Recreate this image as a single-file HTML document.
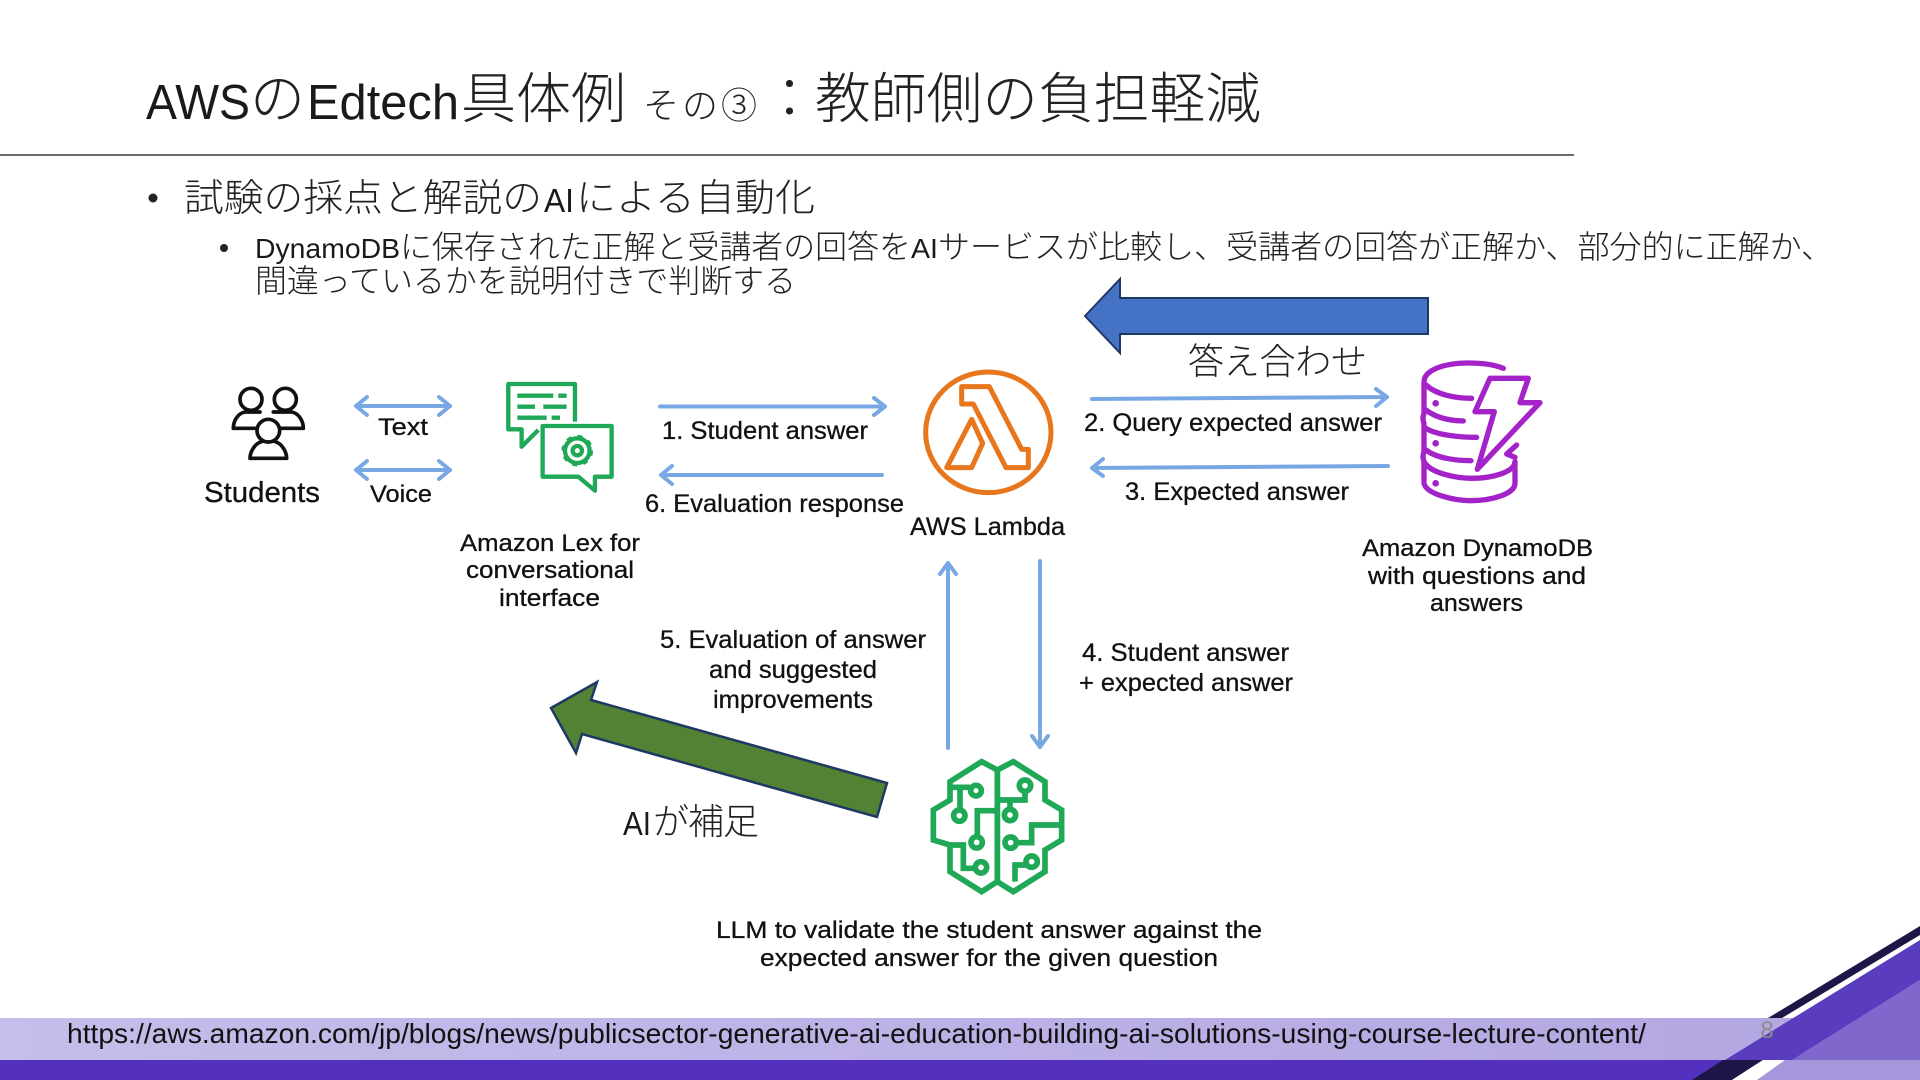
<!DOCTYPE html>
<html lang="ja">
<head>
<meta charset="utf-8">
<title>AWSのEdtech具体例</title>
<style>
html,body{margin:0;padding:0;background:#fff;width:1920px;height:1080px;overflow:hidden}
svg{display:block}
text{font-family:"Liberation Sans","Noto Sans CJK JP",sans-serif;fill:#111}
.jp{font-weight:300;fill:#222}
.lat{fill:#1a1a1a}
.d{stroke:#111;stroke-width:.3}
.a{fill:none;stroke:#78a8e4;stroke-width:4;stroke-linecap:round;stroke-linejoin:round}
.m{text-anchor:middle}
</style>
</head>
<body>
<svg width="1920" height="1080" viewBox="0 0 1920 1080" xmlns="http://www.w3.org/2000/svg">
<defs>
<linearGradient id="band" x1="0" x2="1" y1="0" y2="0">
<stop offset="0" stop-color="#c6bdea"/>
<stop offset="1" stop-color="#b4a7e2"/>
</linearGradient>
</defs>
<rect width="1920" height="1080" fill="#fff"/>

<!-- Title -->
<text class="lat" x="146" y="119" font-size="49" textLength="104" lengthAdjust="spacingAndGlyphs">AWS</text>
<text class="jp" x="250" y="118" font-size="55">の</text>
<text class="lat" x="307" y="119" font-size="49" textLength="152" lengthAdjust="spacingAndGlyphs">Edtech</text>
<text class="jp" x="461" y="118" font-size="55" textLength="165" lengthAdjust="spacingAndGlyphs">具体例</text>
<text class="jp" x="643" y="118" font-size="36" textLength="114">その③</text>
<text class="jp" x="762" y="118" font-size="55">：</text>
<text class="jp" x="815" y="118" font-size="55" textLength="446" lengthAdjust="spacingAndGlyphs">教師側の負担軽減</text>
<line x1="0" y1="155" x2="1574" y2="155" stroke="#6e6e6e" stroke-width="2"/>

<!-- Bullets -->
<circle cx="153" cy="198" r="4.5" fill="#222"/>
<text class="jp" x="184" y="211" font-size="38" textLength="358" lengthAdjust="spacingAndGlyphs">試験の採点と解説の</text>
<text class="lat" x="544" y="212" font-size="33" textLength="30" lengthAdjust="spacingAndGlyphs">AI</text>
<text class="jp" x="576" y="211" font-size="38" textLength="239" lengthAdjust="spacingAndGlyphs">による自動化</text>
<circle cx="224" cy="248" r="4" fill="#222"/>
<text class="lat" x="255" y="258" font-size="28" textLength="145" lengthAdjust="spacingAndGlyphs">DynamoDB</text>
<text class="jp" x="400" y="258" font-size="32" textLength="511" lengthAdjust="spacingAndGlyphs">に保存された正解と受講者の回答を</text>
<text class="lat" x="911" y="258" font-size="28" textLength="27" lengthAdjust="spacingAndGlyphs">AI</text>
<text class="jp" x="938" y="258" font-size="32" textLength="895" lengthAdjust="spacingAndGlyphs">サービスが比較し、受講者の回答が正解か、部分的に正解か、</text>
<text class="jp" x="255" y="292" font-size="32" textLength="541" lengthAdjust="spacingAndGlyphs">間違っているかを説明付きで判断する</text>

<!-- Block arrows -->
<polygon points="1085,316 1120,279 1120,298 1428,298 1428,334 1120,334 1120,353" fill="#4472c4" stroke="#1f3864" stroke-width="2"/>
<text class="jp" x="1188" y="374" font-size="36" textLength="179">答え合わせ</text>
<polygon points="551,708 597,682 591,700 887,783 877,817 582,734 576,753" fill="#548235" stroke="#1f3864" stroke-width="2.5" stroke-linejoin="miter"/>
<text class="lat" x="623" y="835" font-size="33" textLength="28" lengthAdjust="spacingAndGlyphs">AI</text>
<text class="jp" x="653" y="834" font-size="36" textLength="106">が補足</text>

<!-- Students -->
<g transform="translate(180,360) scale(.3333)" fill="none" stroke="#111" stroke-width="11" stroke-linecap="round" stroke-linejoin="round">
<circle cx="213" cy="118" r="33"/>
<circle cx="316" cy="118" r="33"/>
<circle cx="265" cy="212" r="34"/>
<path d="M240,156 H195 C172,160 160,185 160,205 H226"/>
<path d="M280,156 H335 C358,160 370,185 370,205 H304"/>
<path d="M245,245 C225,250 210,275 210,295 H320 C320,275 305,250 285,245"/>
</g>
<text class="d" x="204" y="502" font-size="29" textLength="116" lengthAdjust="spacingAndGlyphs">Students</text>

<!-- Text / Voice arrows -->
<path class="a" d="M356,406 H450 M367,397 L356,406 L367,415 M439,397 L450,406 L439,415"/>
<path class="a" d="M356,470 H450 M367,461 L356,470 L367,479 M439,461 L450,470 L439,479"/>
<text class="d" x="378" y="435" font-size="24" textLength="50" lengthAdjust="spacingAndGlyphs">Text</text>
<text class="d" x="370" y="502" font-size="24" textLength="62" lengthAdjust="spacingAndGlyphs">Voice</text>

<!-- Lex -->
<g transform="translate(180,360) scale(.3333)" fill="none" stroke="#1fa855" stroke-width="13" stroke-linejoin="round" stroke-linecap="butt">
<path d="M1185,185 V72 H985 V208 H1025 V260 L1075,210"/>
<path d="M1088,198 H1295 V350 H1245 V392 L1195,350 H1088 Z"/>
<path d="M1012,107 H1120 M1135,107 H1160 M1012,140 H1065 M1090,140 H1160 M1012,173 H1100 M1115,173 H1140"/>
<circle cx="1192" cy="272" r="14"/>
<circle cx="1192" cy="272" r="37"/>
<circle cx="1192" cy="272" r="43" stroke-width="9" stroke-dasharray="15 18.8"/>
</g>
<g font-size="24">
<text class="d" x="460" y="551" textLength="180" lengthAdjust="spacingAndGlyphs">Amazon Lex for</text>
<text class="d" x="466" y="578" textLength="168" lengthAdjust="spacingAndGlyphs">conversational</text>
<text class="d" x="499" y="606" textLength="101" lengthAdjust="spacingAndGlyphs">interface</text>
</g>

<!-- Arrows 1 / 6 -->
<path class="a" d="M660,406.5 H885 M874,398 L885,406.5 L874,415"/>
<path class="a" d="M661,475 H882 M672,466 L661,475 L672,484"/>
<text class="d" x="662" y="439" font-size="25" textLength="206" lengthAdjust="spacingAndGlyphs">1. Student answer</text>
<text class="d" x="645" y="512" font-size="25" textLength="259" lengthAdjust="spacingAndGlyphs">6. Evaluation response</text>

<!-- Lambda -->
<g transform="translate(900,340) scale(.3333)" fill="none" stroke="#e8761c" stroke-width="15" stroke-linejoin="round">
<ellipse cx="265" cy="277" rx="188" ry="181"/>
<path d="M185,140 H268 L365,328 H385 V383 H318 L220,192 H185 Z"/>
<path d="M215,238 L248,310 L215,383 H140 Z"/>
</g>
<text class="d" x="910" y="535" font-size="25" textLength="155" lengthAdjust="spacingAndGlyphs">AWS Lambda</text>

<!-- Arrows 2 / 3 -->
<path class="a" d="M1092,399 L1387,397 M1376,389 L1387,397 L1376,406"/>
<path class="a" d="M1092,468 L1388,466 M1103,459 L1092,468 L1103,476"/>
<text class="d" x="1084" y="431" font-size="25" textLength="298" lengthAdjust="spacingAndGlyphs">2. Query expected answer</text>
<text class="d" x="1125" y="500" font-size="25" textLength="224" lengthAdjust="spacingAndGlyphs">3. Expected answer</text>

<!-- DynamoDB -->
<g transform="translate(1400,350) scale(.3333)" fill="none" stroke="#a323c9" stroke-width="16" stroke-linecap="round" stroke-linejoin="round">
<path d="M310,55 C260,35 150,30 95,62 C72,76 72,90 72,100 V190 Q66,205 72,220 V305 Q66,320 72,335 V400 C80,435 170,452 210,452 C280,452 345,430 345,400 V335"/>
<path d="M78,105 C110,135 170,145 215,145"/>
<path d="M78,180 C110,205 150,212 190,213"/>
<path d="M78,235 C110,255 180,262 230,262"/>
<path d="M78,300 C110,325 170,332 213,332"/>
<path d="M72,335 C90,370 170,385 215,385 C280,385 345,365 345,335"/>
<path d="M350,285 L320,312 L345,322"/>
<path d="M270,85 H385 L360,158 H420 L232,358 L283,185 H225 Z"/>
<circle cx="107" cy="160" r="10" fill="#a323c9" stroke="none"/>
<circle cx="107" cy="280" r="10" fill="#a323c9" stroke="none"/>
<circle cx="107" cy="400" r="10" fill="#a323c9" stroke="none"/>
</g>
<g font-size="24">
<text class="d" x="1362" y="556" textLength="231" lengthAdjust="spacingAndGlyphs">Amazon DynamoDB</text>
<text class="d" x="1368" y="584" textLength="218" lengthAdjust="spacingAndGlyphs">with questions and</text>
<text class="d" x="1430" y="611" textLength="93" lengthAdjust="spacingAndGlyphs">answers</text>
</g>

<!-- Vertical arrows -->
<path class="a" d="M948,748 V563 M940,574 L948,563 L956,574"/>
<path class="a" d="M1040,561 V747 M1032,736 L1040,747 L1048,736"/>
<text class="d" x="660" y="648" font-size="25" textLength="266" lengthAdjust="spacingAndGlyphs">5. Evaluation of answer</text>
<text class="d" x="709" y="678" font-size="25" textLength="168" lengthAdjust="spacingAndGlyphs">and suggested</text>
<text class="d" x="713" y="708" font-size="25" textLength="160" lengthAdjust="spacingAndGlyphs">improvements</text>
<text class="d" x="1082" y="661" font-size="25" textLength="207" lengthAdjust="spacingAndGlyphs">4. Student answer</text>
<text class="d" x="1079" y="691" font-size="25" textLength="214" lengthAdjust="spacingAndGlyphs">+ expected answer</text>

<!-- Brain -->
<g transform="translate(920,750) scale(.3333)" fill="none" stroke="#1fa855" stroke-width="17" stroke-linejoin="miter">
<path d="M232,60 L185,35 L90,95 V150 L40,180 V270 L90,285 V365 L185,425 L232,395"/>
<path d="M232,60 L280,35 L375,95 V150 L425,180 V270 L375,300 V365 L280,425 L232,395 Z"/>
<path d="M232,55 V400"/>
<path d="M90,112 H150 M120,112 V180 M225,182 H172 V260 M90,285 H130 V355 H165"/>
<path d="M232,150 H315 V125 M270,150 V180 M425,225 H335 V278 H290 M285,395 V345 H320"/>
<circle cx="168" cy="122" r="16"/>
<circle cx="118" cy="197" r="17"/>
<circle cx="170" cy="277" r="17"/>
<circle cx="183" cy="352" r="17"/>
<circle cx="315" cy="107" r="17"/>
<circle cx="270" cy="195" r="17"/>
<circle cx="272" cy="278" r="17"/>
<circle cx="335" cy="335" r="17"/>
</g>
<text class="d" x="716" y="938" font-size="24" textLength="546" lengthAdjust="spacingAndGlyphs">LLM to validate the student answer against the</text>
<text class="d" x="760" y="966" font-size="24" textLength="458" lengthAdjust="spacingAndGlyphs">expected answer for the given question</text>

<!-- Footer -->
<rect x="0" y="1018" width="1800" height="42" fill="url(#band)"/>
<rect x="0" y="1060" width="1730" height="20" fill="#5330bd"/>
<polygon points="1768,1018 1782,1018 1920,935 1920,926" fill="#1f1648"/>
<polygon points="1792,1060 1920,1060 1920,980" fill="#7f67cc"/>
<polygon points="1725,1060 1792,1060 1920,980 1920,940" fill="#5a3cbe"/>
<polygon points="1723,1060 1763,1060 1732,1080 1692,1080" fill="#1f1648"/>
<polygon points="1763,1060 1785,1060 1757,1080 1732,1080" fill="#fff"/>
<polygon points="1785,1060 1920,1060 1920,1080 1757,1080" fill="#a896dc"/>
<text x="67" y="1043" font-size="28" textLength="1579" lengthAdjust="spacingAndGlyphs">https://aws.amazon.com/jp/blogs/news/publicsector-generative-ai-education-building-ai-solutions-using-course-lecture-content/</text>
<text x="1767" y="1038" font-size="24" class="m" style="fill:#8c8c8c">8</text>
</svg>
</body>
</html>
